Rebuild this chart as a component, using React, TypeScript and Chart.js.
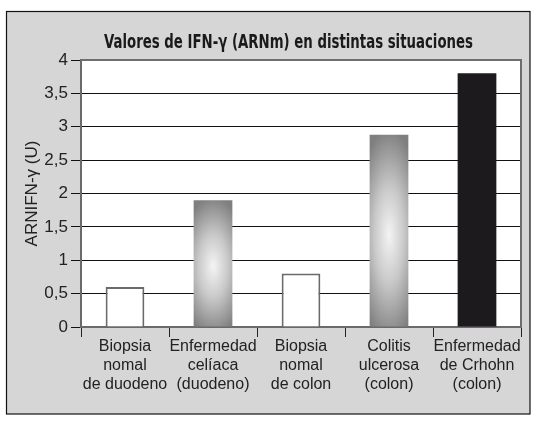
import React, { useEffect, useRef } from "react";
import { Chart, registerables } from "chart.js";

Chart.register(...registerables);

const categories: string[][] = [
  ["Biopsia", "nomal", "de duodeno"],
  ["Enfermedad", "celíaca", "(duodeno)"],
  ["Biopsia", "nomal", "de colon"],
  ["Colitis", "ulcerosa", "(colon)"],
  ["Enfermedad", "de Crhohn", "(colon)"],
];
const values: number[] = [0.6, 1.9, 0.8, 2.88, 3.8];
const barStyles: string[] = ["white", "gradient", "white", "gradient", "black"];
const yTickLabels: string[] = ["0", "0,5", "1", "1,5", "2", "2,5", "3", "3,5", "4"];
const chartTitle = "Valores de IFN-γ (ARNm) en distintas situaciones";
const yAxisTitle = "ARNIFN-γ (U)";

const BAR_PCT = 0.44;

function makeGradientPattern(chart: any, index: number) {
  const area = chart.chartArea;
  const xs = chart.scales.x;
  const ys = chart.scales.y;
  if (!area || !xs || !ys) return "#aaaaaa";
  const cw = (area.right - area.left) / categories.length;
  const w = cw * BAR_PCT;
  const cx = xs.getPixelForValue(index);
  const top = ys.getPixelForValue(values[index]);
  const base = ys.getPixelForValue(0);
  const h = Math.max(1, base - top);
  const off = document.createElement("canvas");
  off.width = Math.ceil(w) + 2;
  off.height = Math.ceil(h) + 2;
  const c = off.getContext("2d")!;
  c.save();
  c.translate(off.width / 2, off.height * 0.52);
  c.scale(w * 0.85, h * 0.55);
  const g = c.createRadialGradient(0, 0, 0, 0, 0, 1);
  g.addColorStop(0, "#f4f4f4");
  g.addColorStop(0.45, "#c9c9c9");
  g.addColorStop(1, "#7f7f7f");
  c.fillStyle = g;
  c.fillRect(-3, -3, 6, 6);
  c.restore();
  const pat = c.createPattern(off, "no-repeat")!;
  const m = new DOMMatrix().translate(cx - w / 2 - 1, top - 1);
  pat.setTransform(m);
  return pat;
}

const framePlugin = {
  id: "frame",
  beforeDraw(chart: any) {
    const ctx = chart.ctx;
    const a = chart.chartArea;
    ctx.save();
    ctx.fillStyle = "#ffffff";
    ctx.fillRect(0, 0, chart.width, chart.height);
    ctx.fillStyle = "#d6d6d6";
    ctx.fillRect(6, 11.5, 524, 402.5);
    ctx.strokeStyle = "#111111";
    ctx.lineWidth = 1.2;
    ctx.strokeRect(6.5, 11.5, 523.5, 402.5);
    ctx.fillStyle = "#ffffff";
    ctx.fillRect(a.left, a.top, a.right - a.left, a.bottom - a.top);
    ctx.restore();
  },
  afterDraw(chart: any) {
    const ctx = chart.ctx;
    const a = chart.chartArea;
    ctx.save();
    ctx.strokeStyle = "#6e6e6e";
    ctx.lineWidth = 2;
    ctx.beginPath();
    ctx.moveTo(a.left, a.top);
    ctx.lineTo(a.right, a.top);
    ctx.lineTo(a.right, a.bottom);
    ctx.stroke();
    // title
    ctx.font = 'bold 19px "Liberation Sans Narrow", "Arial Narrow", "DejaVu Sans Condensed", sans-serif';
    ctx.fillStyle = "#1a1a1a";
    ctx.textBaseline = "alphabetic";
    ctx.textAlign = "center";
    const target = 369;
    const mw = ctx.measureText(chartTitle).width;
    const sx = mw > 0 ? target / mw : 1;
    ctx.translate(288.5, 48);
    ctx.scale(sx, 1);
    ctx.fillText(chartTitle, 0, 0);
    ctx.restore();
  },
};

export default function App() {
  const ref = useRef<HTMLCanvasElement | null>(null);
  useEffect(() => {
    if (!ref.current) return;
    Chart.defaults.font.family = '"Liberation Sans", Arial, sans-serif';
    const chart = new Chart(ref.current, {
      type: "bar",
      data: {
        labels: categories,
        datasets: [
          {
            data: values,
            backgroundColor: (ctx: any) => {
              const s = barStyles[ctx.dataIndex];
              if (s === "white") return "#ffffff";
              if (s === "black") return "#1c1a1c";
              return makeGradientPattern(ctx.chart, ctx.dataIndex);
            },
            borderColor: (ctx: any) => (barStyles[ctx.dataIndex] === "white" ? "#6a6a6a" : "rgba(0,0,0,0)"),
            borderWidth: (ctx: any) => (barStyles[ctx.dataIndex] === "white" ? 2 : 0),
            categoryPercentage: 1,
            barPercentage: BAR_PCT,
          },
        ],
      },
      options: {
        animation: false,
        responsive: false,
        devicePixelRatio: 1,
        layout: { padding: { left: 0, top: 60, right: 20, bottom: 0 } },
        plugins: {
          legend: { display: false },
          title: { display: false },
          tooltip: { enabled: false },
        },
        scales: {
          x: {
            afterFit: (s: any) => {
              s.height = 94;
            },
            grid: {
              offset: true,
              drawOnChartArea: false,
              drawTicks: true,
              tickLength: 10,
              color: "#222222",
              lineWidth: 1,
            },
            border: { color: "#6a6a6a", width: 2 },
            ticks: {
              padding: 0,
              color: "#222222",
              font: { size: 16, lineHeight: 1.2 },
              maxRotation: 0,
              autoSkip: false,
            },
          },
          y: {
            min: 0,
            max: 4,
            afterFit: (s: any) => {
              s.width = 81;
            },
            grid: {
              color: "#111111",
              lineWidth: 1,
              drawTicks: true,
              tickLength: 10,
            },
            border: { color: "#6a6a6a", width: 2 },
            ticks: {
              stepSize: 0.5,
              padding: 3,
              color: "#222222",
              font: { size: 17 },
              callback: (_v: any, i: number) => yTickLabels[i],
            },
            title: {
              display: true,
              text: yAxisTitle,
              color: "#222222",
              font: { size: 17 },
              padding: { top: 22, bottom: 0 },
            },
          },
        },
      },
      plugins: [framePlugin],
    } as any);
    return () => chart.destroy();
  }, []);
  return (
    <div style={{ position: "absolute", left: 0, top: 0, width: 541, height: 421 }}>
      <canvas ref={ref} width={541} height={421} style={{ display: "block" }} />
    </div>
  );
}
